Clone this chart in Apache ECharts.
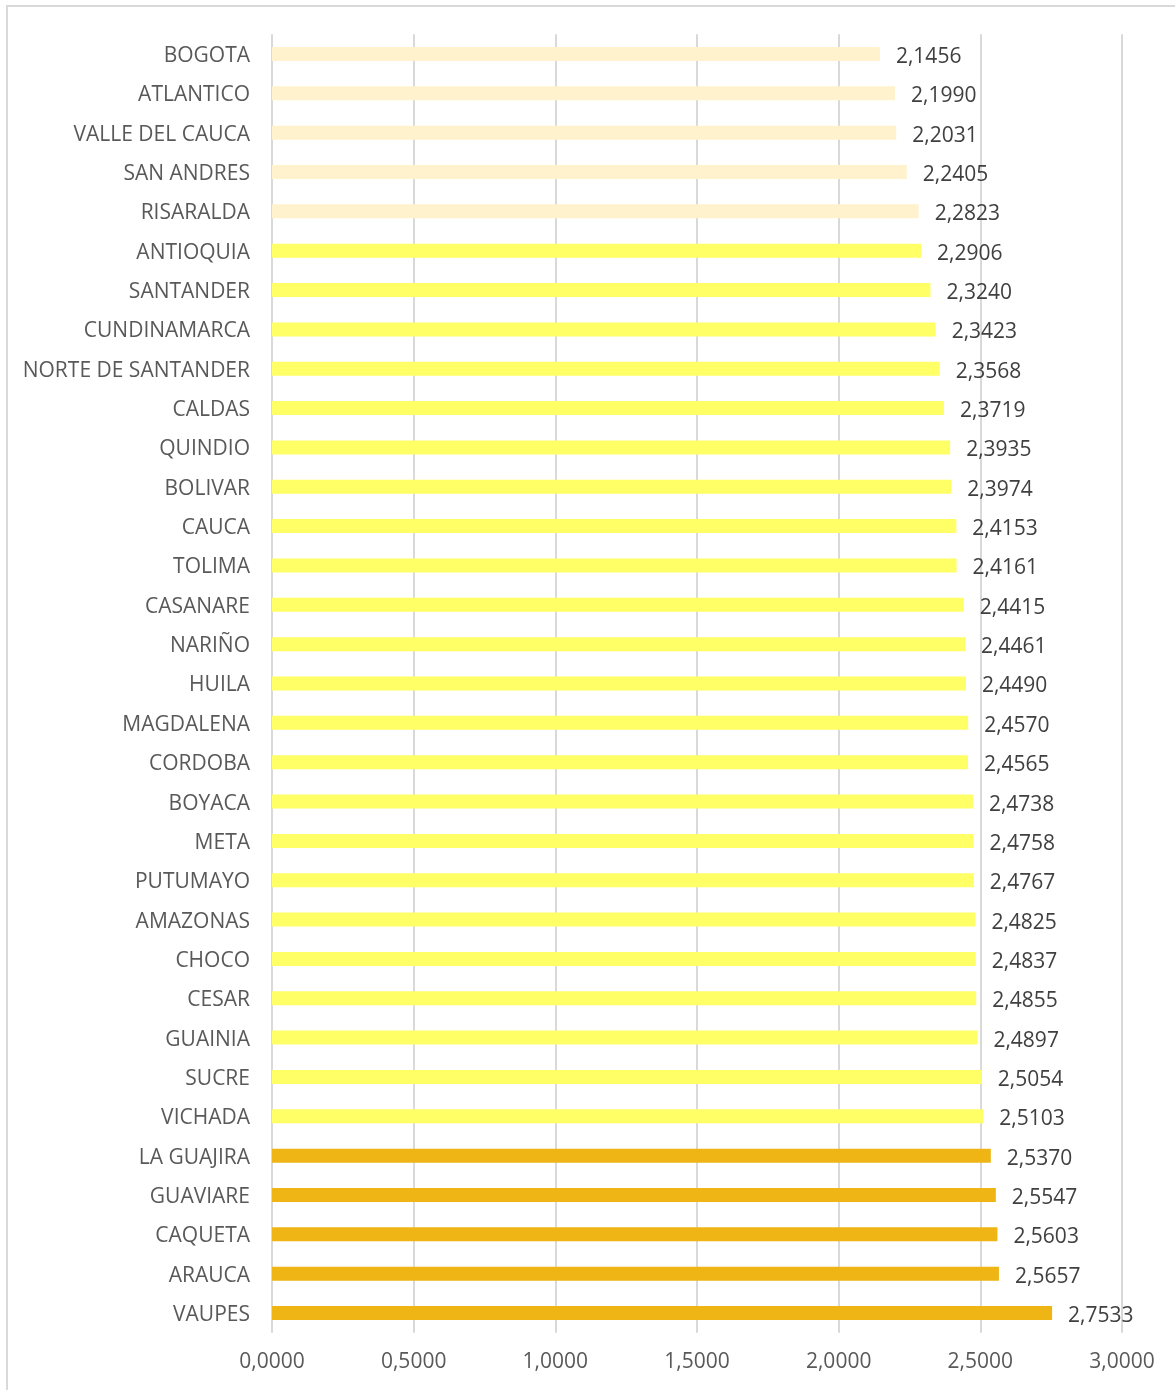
<!DOCTYPE html>
<html>
<head>
<meta charset="utf-8">
<script src="https://cdn.jsdelivr.net/npm/echarts@6/dist/echarts.min.js"></script>
<style>
html,body{margin:0;padding:0;background:#fff;}
#frame{position:absolute;left:6px;top:5px;width:1200px;height:1400px;border:2px solid #d9d9d9;box-sizing:border-box;}
#chart{position:absolute;left:0;top:0;width:1175px;height:1390px;}
</style>
</head>
<body>
<div id="frame"></div>
<div id="chart"></div>
<script>
const categories = ["BOGOTA","ATLANTICO","VALLE DEL CAUCA","SAN ANDRES","RISARALDA","ANTIOQUIA","SANTANDER","CUNDINAMARCA","NORTE DE SANTANDER","CALDAS","QUINDIO","BOLIVAR","CAUCA","TOLIMA","CASANARE","NARIÑO","HUILA","MAGDALENA","CORDOBA","BOYACA","META","PUTUMAYO","AMAZONAS","CHOCO","CESAR","GUAINIA","SUCRE","VICHADA","LA GUAJIRA","GUAVIARE","CAQUETA","ARAUCA","VAUPES"];
const values = [2.1456,2.1990,2.2031,2.2405,2.2823,2.2906,2.3240,2.3423,2.3568,2.3719,2.3935,2.3974,2.4153,2.4161,2.4415,2.4461,2.4490,2.4570,2.4565,2.4738,2.4758,2.4767,2.4825,2.4837,2.4855,2.4897,2.5054,2.5103,2.5370,2.5547,2.5603,2.5657,2.7533];
const groups = ["low","low","low","low","low","mid","mid","mid","mid","mid","mid","mid","mid","mid","mid","mid","mid","mid","mid","mid","mid","mid","mid","mid","mid","mid","mid","mid","high","high","high","high","high"];
const xTicks = [0,0.5,1,1.5,2,2.5,3];
const groupColors = {low:"#FFF2CC", mid:"#FFFF66", high:"#EEB515"};
const fmt = v => v.toFixed(4).replace(".", ",");

const chart = echarts.init(document.getElementById("chart"), null, {renderer:"canvas"});
chart.setOption({
  animation:false,
  textStyle:{fontFamily:"Open Sans"},
  grid:{left:272,right:53,top:34.3,bottom:57.3,containLabel:false},
  xAxis:{
    type:"value",min:xTicks[0],max:xTicks[xTicks.length-1],interval:0.5,
    axisLine:{show:false},axisTick:{show:false},
    splitLine:{show:true,lineStyle:{color:"#d9d9d9",width:2}},
    axisLabel:{formatter:v=>fmt(v),color:"#595959",fontSize:21,margin:19,fontFamily:"Open Sans"}
  },
  yAxis:{
    type:"category",data:categories,inverse:true,
    axisLine:{show:false},axisTick:{show:false},
    axisLabel:{
      margin:22,
      formatter:v=>"{c|"+v+"}",
      rich:{c:{color:"#595959",fontSize:21,fontFamily:"Open Sans",padding:[4,0,0,0]}}
    }
  },
  series:[{
    type:"bar",
    data:values.map((v,i)=>({value:v,itemStyle:{color:groupColors[groups[i]]}})),
    barWidth:14,
    label:{show:true,position:"right",distance:16,offset:[0,3],formatter:p=>fmt(p.value),color:"#404040",fontSize:21,fontFamily:"Open Sans"}
  }]
});
</script>
</body>
</html>
